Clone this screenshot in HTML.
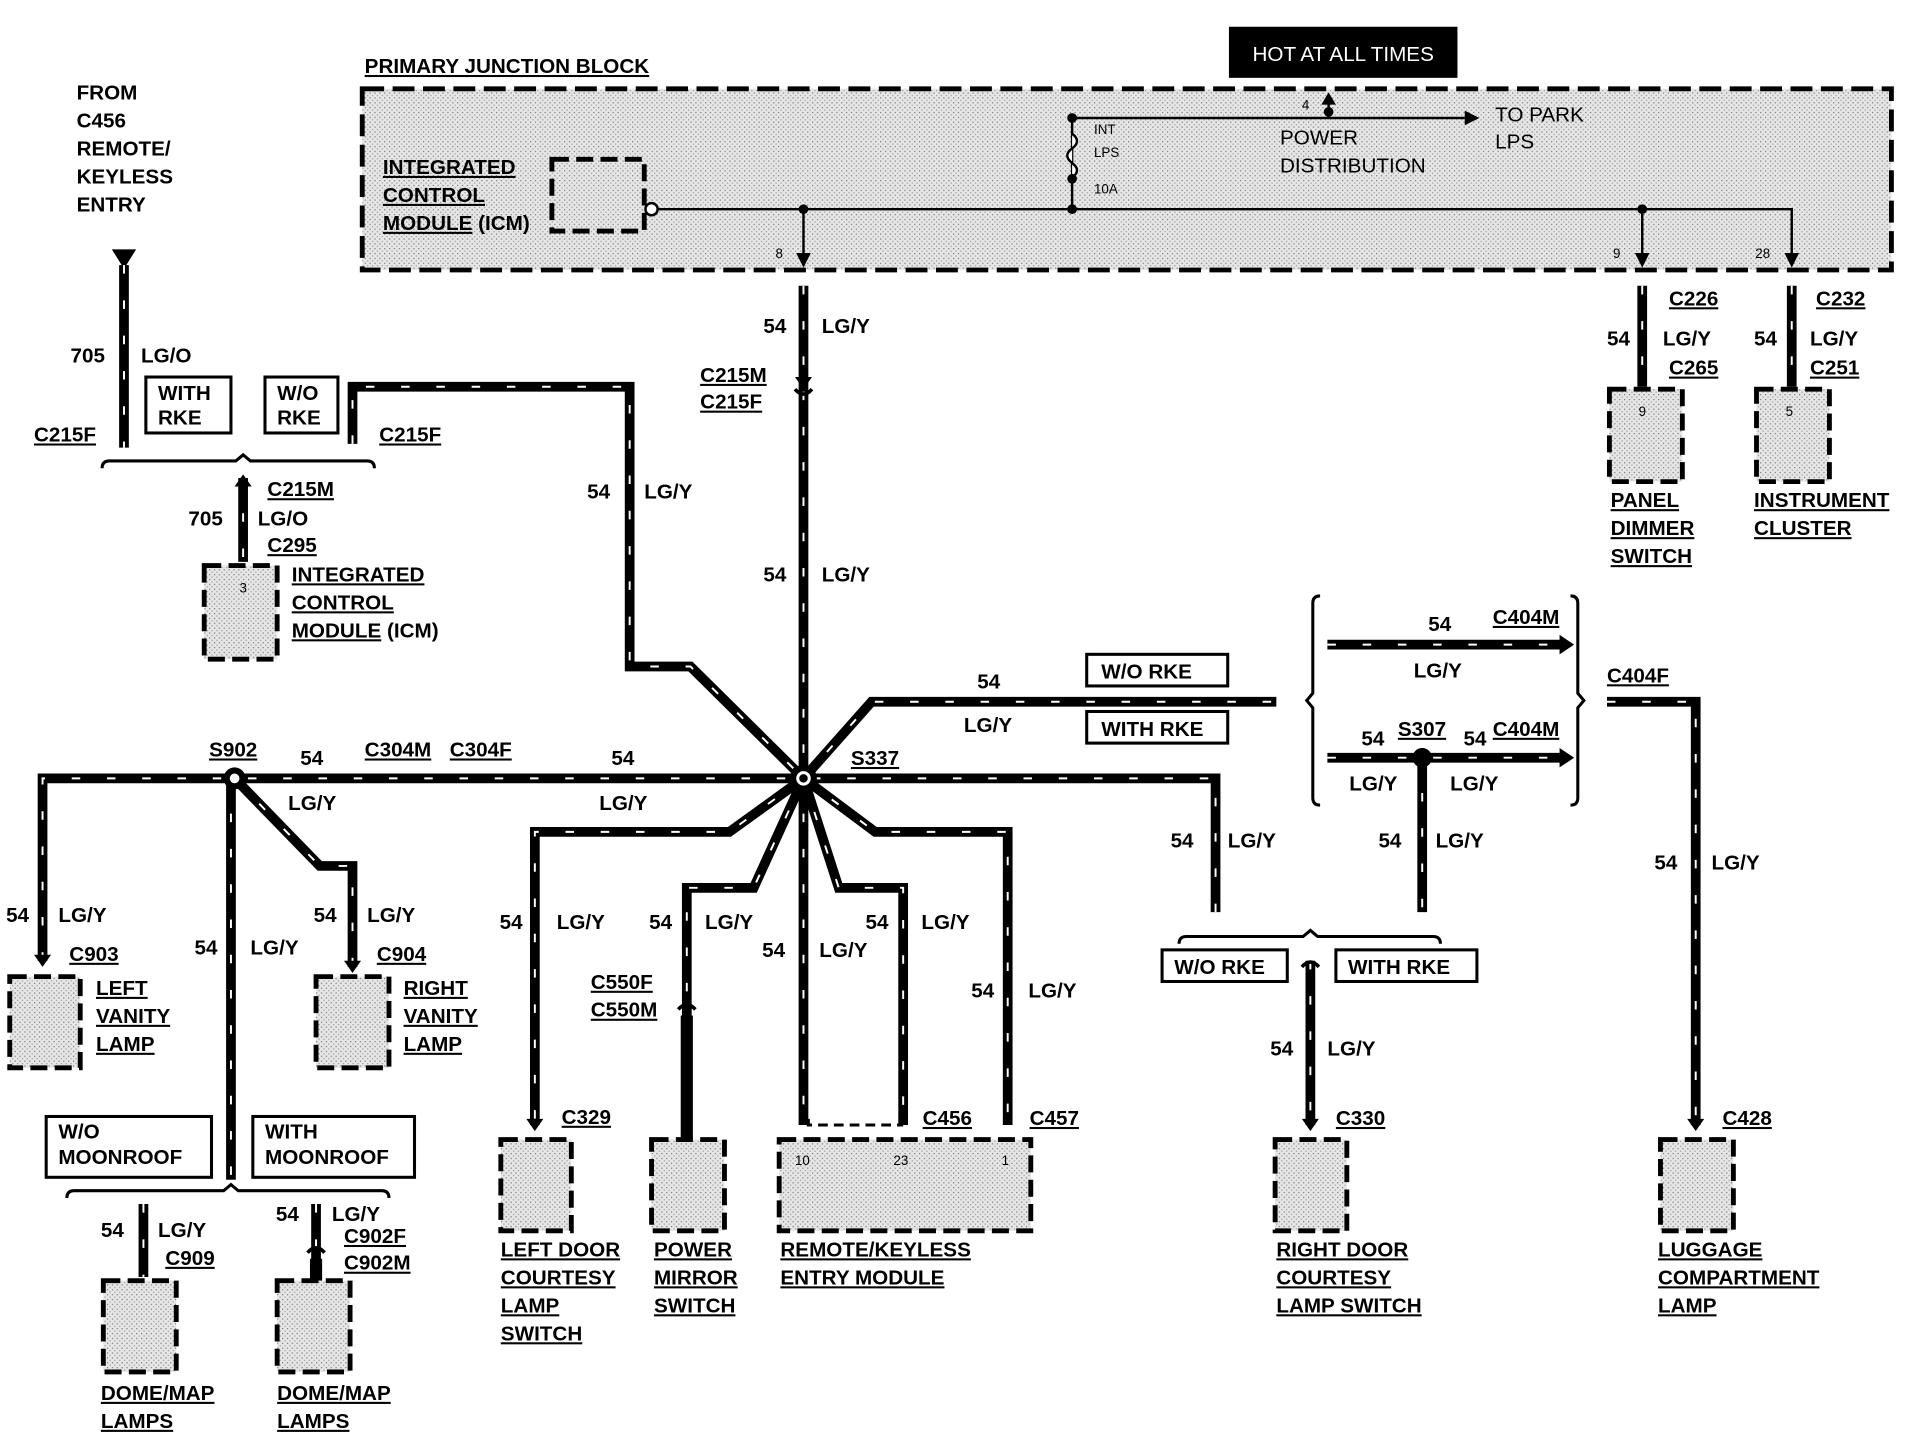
<!DOCTYPE html>
<html><head><meta charset="utf-8"><style>
html,body{margin:0;padding:0;background:#fff;}
svg{display:block}
text{font-family:"Liberation Sans",sans-serif;font-weight:bold;font-size:17px;fill:#000}
.u{text-decoration:underline}
.s{font-size:11px;font-weight:normal}
.n{font-weight:normal}
</style></head><body>
<svg width="1906" height="1440" viewBox="0 0 1568 1184" preserveAspectRatio="none" xmlns="http://www.w3.org/2000/svg">
<defs>
<pattern id="st" width="4" height="4" patternUnits="userSpaceOnUse">
<rect width="4" height="4" fill="#e6e6e6"/><rect width="1" height="1" fill="#777"/><rect x="2" y="2" width="1" height="1" fill="#999"/>
</pattern>
</defs>
<g fill="none" stroke="#000">
<rect x="298" y="73" width="1258" height="149" fill="url(#st)" stroke-width="4" stroke-dasharray="18 7"/>
<rect x="454" y="131" width="76" height="59" fill="url(#st)" stroke-width="4" stroke-dasharray="14 6"/>
<circle cx="536" cy="172" r="5" fill="#fff" stroke-width="2"/>
<path d="M541 172H1474V215M661 172V215M1351 172V215M882 97V172M882 97H1205M1093 97V82" stroke-width="2"/>
<path d="M882 110q8 6 0 12q-8 6 0 12q8 6 0 12" stroke-width="2" fill="#fff"/>
</g>
<g fill="#000">
<circle cx="882" cy="97" r="4"/><circle cx="882" cy="147" r="4"/><circle cx="882" cy="172" r="4"/>
<circle cx="661" cy="172" r="4"/><circle cx="1351" cy="172" r="4"/><circle cx="1093" cy="92" r="4"/>
<path d="M1205 91l12 6-12 6z"/><path d="M1087 86l6-10 6 10z"/>
<path d="M655 208l6 12 6-12z"/><path d="M1345 208l6 12 6-12z"/><path d="M1468 208l6 12 6-12z"/>
<path d="M92 205h20l-10 16z"/>
</g>
<rect x="1011" y="22" width="188" height="42" fill="#000"/>
<text x="1105" y="50" text-anchor="middle" style="fill:#fff" class="n">HOT AT ALL TIMES</text>
<text x="300" y="60" class="u">PRIMARY JUNCTION BLOCK</text>
<text x="315" y="143" class="u">INTEGRATED</text><text x="315" y="166" class="u">CONTROL</text><text x="315" y="189"><tspan class="u">MODULE</tspan> (ICM)</text>
<text x="900" y="110" class="s">INT</text><text x="900" y="129" class="s">LPS</text><text x="900" y="159" class="s">10A</text>
<text x="1071" y="90" class="s">4</text>
<text x="1053" y="119" class="n">POWER</text><text x="1053" y="142" class="n">DISTRIBUTION</text>
<text x="1230" y="100" class="n">TO PARK</text><text x="1230" y="122" class="n">LPS</text>
<text x="638" y="212" class="s">8</text><text x="1327" y="212" class="s">9</text><text x="1444" y="212" class="s">28</text>

<text x="63" y="82">FROM</text><text x="63" y="105">C456</text><text x="63" y="128">REMOTE/</text><text x="63" y="151">KEYLESS</text><text x="63" y="174">ENTRY</text>

<g fill="none" stroke-linejoin="miter">
<g stroke="#000" stroke-width="8">
<path d="M102 218V368"/>
<path d="M290 365V318H518V548H568L657 636"/>
<path d="M200 393V462"/>
<path d="M661 235V636"/>
<path d="M35 790V640H1000V750"/>
<path d="M190 640V970"/>
<path d="M193 640L263 712H290V795"/>
<path d="M661 640L717 577H1050"/>
<path d="M661 640L600 684H440V925"/>
<path d="M661 640L620 730H565V935"/>
<path d="M661 640V925"/>
<path d="M661 640L690 730H743V925"/>
<path d="M661 640L720 684H829V925"/>
<path d="M1092 530H1285"/>
<path d="M1092 623H1285"/>
<path d="M1170 623V750"/>
<path d="M1078 790V925"/>
<path d="M1322 577H1395V925"/>
<path d="M1351 235V318"/>
<path d="M1474 235V318"/>
<path d="M118 990V1050"/>
<path d="M260 990V1050"/>
</g>
<g stroke="#fff" stroke-width="1.6" stroke-dasharray="7 22">
<path d="M102 218V368"/><path d="M290 365V318H518V548H568L657 636"/><path d="M200 393V462"/><path d="M661 235V636"/>
<path d="M35 790V640H1000V750"/><path d="M190 640V970"/><path d="M193 640L263 712H290V795"/><path d="M661 640L717 577H1050"/>
<path d="M661 640L600 684H440V925"/><path d="M661 640L620 730H565V825"/><path d="M661 640V925"/><path d="M661 640L690 730H743V925"/>
<path d="M661 640L720 684H829V925"/><path d="M1092 530H1285"/><path d="M1092 623H1285"/><path d="M1170 623V750"/>
<path d="M1078 790V925"/><path d="M1322 577H1395V925"/><path d="M1351 235V318"/><path d="M1474 235V318"/>
<path d="M118 990V1050"/><path d="M260 990V1030"/>
</g>
<g stroke="#000" stroke-width="2.5">
<path d="M84 385q0-6 6-6H194l6-5 6 5H302q6 0 6 6"/>
<path d="M970 776q0-6 6-6H1072l6-5 6 5H1179q6 0 6 6"/>
<path d="M55 985q0-6 6-6H184l6-5 6 5H314q6 0 6 6"/>
<path d="M1086 490q-6 0-6 6V570l-5 6 5 6V656q0 6 6 6"/>
<path d="M1292 490q6 0 6 6V570l5 6-5 6V656q0 6-6 6"/>
<path d="M665 920v5h78" stroke-dasharray="8 5"/>
<path d="M558 830q7-8 14 0M253 1030q7-8 14 0M1071 795q7-8 14 0M654 320q7 8 14 0" stroke-width="3"/>
</g>
</g>
<g fill="#000">
<circle cx="661" cy="640" r="11"/><circle cx="661" cy="640" r="6" fill="#fff"/><circle cx="661" cy="640" r="3.5"/>
<circle cx="193" cy="640" r="9"/><circle cx="193" cy="640" r="4" fill="#fff"/>
<circle cx="1170" cy="623" r="8"/>
<path d="M1283 522l12 8-12 8z"/><path d="M1283 615l12 8-12 8z"/>
<path d="M433 920l7 10 7-10z"/><path d="M1071 920l7 10 7-10z"/><path d="M1388 920l7 10 7-10z"/>
<path d="M28 785l7 10 7-10z"/><path d="M283 790l7 10 7-10z"/>
<path d="M654 310l7 10 7-10z"/><path d="M193 400l7-10 7 10z"/>
<rect x="255" y="1035" width="10" height="18"/><rect x="560" y="835" width="10" height="102"/>
</g>
<g fill="url(#st)" stroke="#000" stroke-width="4" stroke-dasharray="14 6">
<rect x="168" y="465" width="60" height="77"/>
<rect x="1324" y="320" width="60" height="76"/>
<rect x="1445" y="320" width="60" height="76"/>
<rect x="8" y="803" width="58" height="75"/>
<rect x="260" y="803" width="60" height="75"/>
<rect x="412" y="937" width="58" height="75"/>
<rect x="536" y="937" width="60" height="75"/>
<rect x="641" y="937" width="207" height="75"/>
<rect x="1049" y="937" width="59" height="75"/>
<rect x="1366" y="937" width="60" height="75"/>
<rect x="85" y="1053" width="60" height="75"/>
<rect x="228" y="1053" width="60" height="75"/>
</g>
<text x="197" y="487" class="s">3</text><text x="1348" y="342" class="s">9</text><text x="1469" y="342" class="s">5</text>
<text x="654" y="958" class="s">10</text><text x="735" y="958" class="s">23</text><text x="824" y="958" class="s">1</text>
<g fill="#fff" stroke="#000" stroke-width="2.5">
<rect x="120" y="310" width="70" height="46"/><rect x="218" y="310" width="60" height="46"/>
<rect x="894" y="538" width="116" height="26"/><rect x="894" y="585" width="116" height="26"/>
<rect x="956" y="781" width="103" height="26"/><rect x="1099" y="781" width="116" height="26"/>
<rect x="38" y="918" width="136" height="50"/><rect x="208" y="918" width="133" height="50"/>
</g>
<text x="130" y="329">WITH</text><text x="130" y="349">RKE</text>
<text x="228" y="329">W/O</text><text x="228" y="349">RKE</text>
<text x="906" y="558">W/O RKE</text><text x="906" y="605">WITH RKE</text>
<text x="966" y="801">W/O RKE</text><text x="1109" y="801">WITH RKE</text>
<text x="48" y="936">W/O</text><text x="48" y="957">MOONROOF</text>
<text x="218" y="936">WITH</text><text x="218" y="957">MOONROOF</text>
<text x="58" y="298">705</text><text x="116" y="298">LG/O</text>
<text x="28" y="363" class="u">C215F</text><text x="312" y="363" class="u">C215F</text>
<text x="220" y="408" class="u">C215M</text><text x="155" y="432">705</text><text x="212" y="432">LG/O</text><text x="220" y="454" class="u">C295</text>
<text x="240" y="478" class="u">INTEGRATED</text><text x="240" y="501" class="u">CONTROL</text><text x="240" y="524"><tspan class="u">MODULE</tspan> (ICM)</text>
<text x="628" y="274">54</text><text x="676" y="274">LG/Y</text>
<text x="576" y="314" class="u">C215M</text><text x="576" y="336" class="u">C215F</text>
<text x="483" y="410">54</text><text x="530" y="410">LG/Y</text>
<text x="628" y="478">54</text><text x="676" y="478">LG/Y</text>
<text x="1373" y="251" class="u">C226</text><text x="1322" y="284">54</text><text x="1368" y="284">LG/Y</text><text x="1373" y="308" class="u">C265</text>
<text x="1494" y="251" class="u">C232</text><text x="1443" y="284">54</text><text x="1489" y="284">LG/Y</text><text x="1489" y="308" class="u">C251</text>
<text x="1325" y="417" class="u">PANEL</text><text x="1325" y="440" class="u">DIMMER</text><text x="1325" y="463" class="u">SWITCH</text>
<text x="1443" y="417" class="u">INSTRUMENT</text><text x="1443" y="440" class="u">CLUSTER</text>
<text x="804" y="566">54</text><text x="793" y="602">LG/Y</text>
<text x="1175" y="519">54</text><text x="1228" y="513" class="u">C404M</text><text x="1163" y="557">LG/Y</text>
<text x="1120" y="613">54</text><text x="1150" y="605" class="u">S307</text><text x="1204" y="613">54</text><text x="1228" y="605" class="u">C404M</text>
<text x="1110" y="650">LG/Y</text><text x="1193" y="650">LG/Y</text>
<text x="1322" y="561" class="u">C404F</text>
<text x="172" y="622" class="u">S902</text><text x="247" y="629">54</text><text x="300" y="622" class="u">C304M</text><text x="370" y="622" class="u">C304F</text>
<text x="503" y="629">54</text><text x="700" y="629" class="u">S337</text>
<text x="237" y="666">LG/Y</text><text x="493" y="666">LG/Y</text>
<text x="963" y="697">54</text><text x="1010" y="697">LG/Y</text><text x="1134" y="697">54</text><text x="1181" y="697">LG/Y</text>
<text x="1361" y="715">54</text><text x="1408" y="715">LG/Y</text>
<text x="5" y="758">54</text><text x="48" y="758">LG/Y</text><text x="258" y="758">54</text><text x="302" y="758">LG/Y</text>
<text x="160" y="785">54</text><text x="206" y="785">LG/Y</text>
<text x="57" y="790" class="u">C903</text><text x="310" y="790" class="u">C904</text>
<text x="79" y="818" class="u">LEFT</text><text x="79" y="841" class="u">VANITY</text><text x="79" y="864" class="u">LAMP</text>
<text x="332" y="818" class="u">RIGHT</text><text x="332" y="841" class="u">VANITY</text><text x="332" y="864" class="u">LAMP</text>
<text x="411" y="764">54</text><text x="458" y="764">LG/Y</text><text x="534" y="764">54</text><text x="580" y="764">LG/Y</text>
<text x="712" y="764">54</text><text x="758" y="764">LG/Y</text><text x="627" y="787">54</text><text x="674" y="787">LG/Y</text>
<text x="799" y="820">54</text><text x="846" y="820">LG/Y</text>
<text x="486" y="813" class="u">C550F</text><text x="486" y="836" class="u">C550M</text>
<text x="1045" y="868">54</text><text x="1092" y="868">LG/Y</text>
<text x="462" y="924" class="u">C329</text><text x="759" y="925" class="u">C456</text><text x="847" y="925" class="u">C457</text>
<text x="1099" y="925" class="u">C330</text><text x="1417" y="925" class="u">C428</text>
<text x="412" y="1033" class="u">LEFT DOOR</text><text x="412" y="1056" class="u">COURTESY</text><text x="412" y="1079" class="u">LAMP</text><text x="412" y="1102" class="u">SWITCH</text>
<text x="538" y="1033" class="u">POWER</text><text x="538" y="1056" class="u">MIRROR</text><text x="538" y="1079" class="u">SWITCH</text>
<text x="642" y="1033" class="u">REMOTE/KEYLESS</text><text x="642" y="1056" class="u">ENTRY MODULE</text>
<text x="1050" y="1033" class="u">RIGHT DOOR</text><text x="1050" y="1056" class="u">COURTESY</text><text x="1050" y="1079" class="u">LAMP SWITCH</text>
<text x="1364" y="1033" class="u">LUGGAGE</text><text x="1364" y="1056" class="u">COMPARTMENT</text><text x="1364" y="1079" class="u">LAMP</text>
<text x="83" y="1017">54</text><text x="130" y="1017">LG/Y</text><text x="136" y="1040" class="u">C909</text>
<text x="227" y="1004">54</text><text x="273" y="1004">LG/Y</text><text x="283" y="1022" class="u">C902F</text><text x="283" y="1044" class="u">C902M</text>
<text x="83" y="1151" class="u">DOME/MAP</text><text x="83" y="1174" class="u">LAMPS</text>
<text x="228" y="1151" class="u">DOME/MAP</text><text x="228" y="1174" class="u">LAMPS</text>
</svg>
</body></html>
